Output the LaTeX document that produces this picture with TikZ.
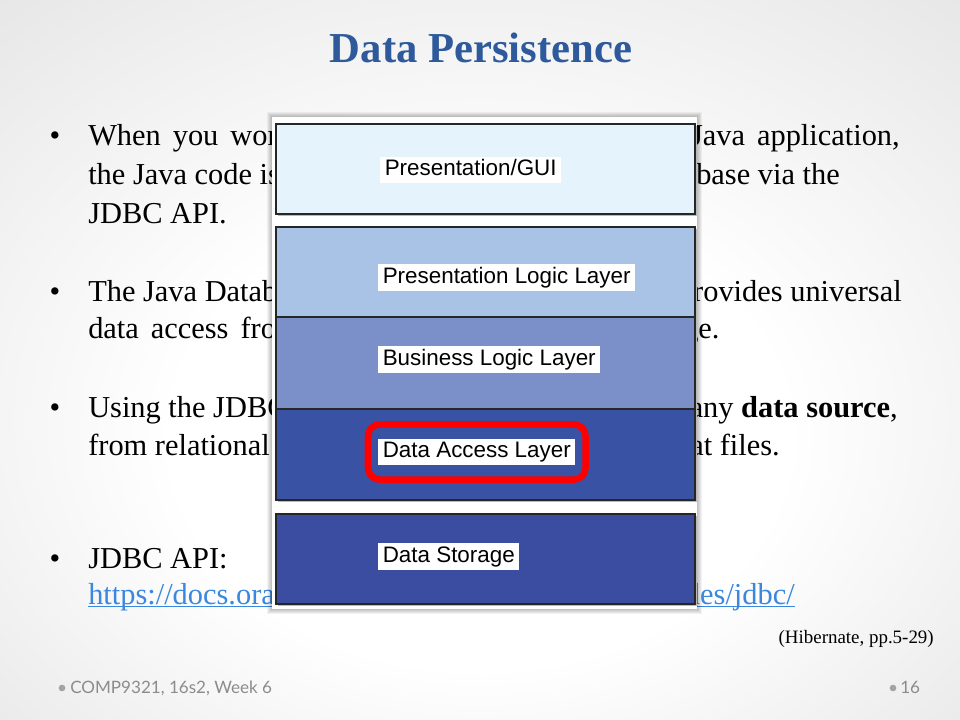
\documentclass[tikz,border=0pt]{standalone}
\usepackage{fontspec}
\setmainfont{Liberation Serif}
\newfontfamily\labelfont{Liberation Sans}
\newfontfamily\footfont{Lato}
\usetikzlibrary{shadows,fit}
\definecolor{titleblue}{HTML}{2E5A9C}
\definecolor{guifill}{HTML}{E5F3FC}
\definecolor{plfill}{HTML}{A8C3E5}
\definecolor{blfill}{HTML}{7B8FC9}
\definecolor{dafill}{HTML}{3A52A3}
\definecolor{dsfill}{HTML}{3A4DA0}
\definecolor{linkblue}{HTML}{3A88DE}
\definecolor{footgray}{HTML}{8C8C8C}
\pgfdeclareradialshading{slidebg}{\pgfpoint{0bp}{-8bp}}{color(0bp)=(white);color(16bp)=(white);color(36bp)=(black!9);color(50bp)=(black!15)}

\begin{document}
\begin{tikzpicture}[x=0.75pt,y=-0.75pt,
    body/.style={inner sep=0pt,font=\fontsize{22.8}{27}\selectfont},
    wide/.style={body,execute at begin node={\spaceskip=#1\relax}},
    layer/.style={draw=black!85,line width=0.9pt,inner sep=0pt,minimum width=314.25pt,
      drop shadow={shadow xshift=1.6pt,shadow yshift=-1.6pt,opacity=0.55}},
    tag/.style={fill=white,anchor=west,inner xsep=3.4pt,inner ysep=2.2pt,
      text height=12.2pt,text depth=3.5pt,font=\labelfont\fontsize{16.8}{20}\selectfont},
    foot/.style={inner sep=0pt,text=footgray,font=\footfont\fontsize{12.8}{15}\selectfont},
    footdot/.style={circle,fill=footgray!80,inner sep=0pt,minimum size=5pt}]
    \useasboundingbox (0,0) rectangle (960,720);
    \shade[shading=slidebg] (0,0) rectangle (960,720);

    \node[anchor=base,text=titleblue,font=\fontsize{32}{36}\selectfont\bfseries] (title) at (481,63) {Data Persistence};

    \foreach \y in {146,301,417,568}
        \node[body,anchor=base] (dot\y) at (55,\y) {\textbullet};
    \node[wide=9pt,anchor=base west] (left146) at (88,146) {When you work};
    \foreach \y/\t in {185/the Java code is,224/JDBC API.,301/The Java Database,
        417/Using the JDBC,455/from relational,568/JDBC API:}
        \node[body,anchor=base west] (left\y) at (88,\y) {\t};
    \node[wide=9pt,anchor=base west] (left339) at (88,339) {data access from};
    \node[body,anchor=base west,text=linkblue] (link) at (88,604) {https://docs.oracle};

    \node[wide=9pt,anchor=base east] (right146) at (900,146) {Java application,};
    \node[body,anchor=base west] (right185) at (696,185) {base via the};
    \node[body,anchor=base east] (right301) at (902,301) {rovides universal};
    \node[body,anchor=base west] (right339) at (683,339) {ge.};
    \node[body,anchor=base east] (right417) at (898,417) {any \textbf{data source},};
    \node[body,anchor=base east] (right455) at (780,455) {at files.};
    \node[body,anchor=base east,text=linkblue] (linkend) at (795,604) {des/jdbc/};
    \draw[linkblue,line width=0.8pt] ([yshift=-2pt]link.base west) -- ([yshift=-2pt]link.base east);
    \draw[linkblue,line width=0.8pt] ([yshift=-2pt]linkend.base west) -- ([yshift=-2pt]linkend.base east);

    \node[anchor=base east,inner sep=0pt,font=\fontsize{14.2}{17}\selectfont] (cite) at (934,643) {(Hibernate, pp.5-29)};

    \foreach \g in {1,...,5}
        \fill[black,opacity=0.05] (272-\g,117-\g) rectangle (697+\g,609+\g);
    \fill[white] (272,117) rectangle (697,609);

    \node[layer,fill=guifill,minimum height=67.5pt] (gui) at (485.5,169) {};
    \node[layer,fill=plfill,minimum height=67.5pt] (plogic) at (485.5,272) {};
    \node[layer,fill=blfill,minimum height=69pt] (blogic) at (485.5,363) {};
    \node[layer,fill=dafill,minimum height=68.25pt] (daccess) at (485.5,454.5) {};
    \node[layer,fill=dsfill,minimum height=67.5pt] (dstore) at (485.5,559) {};

    \node[tag] (guitag) at (380,170) {Presentation/GUI};
    \node[tag] (pltag) at (378,277.5) {Presentation Logic Layer};
    \node[tag] (bltag) at (378,359.5) {Business Logic Layer};
    \node[tag] (datag) at (378,452) {Data Access Layer};
    \node[tag] (dstag) at (378,556.5) {Data Storage};

    \node[draw=red,line width=4.9pt,rounded corners=9pt,inner xsep=7.5pt,inner ysep=10.5pt,fit=(datag)] (focus) {};

    \node[footdot] (fdotl) at (62,688) {};
    \node[foot,anchor=base west] (course) at (70,693) {COMP9321, 16s2, Week 6};
    \node[footdot] (fdotr) at (893,688) {};
    \node[foot,anchor=base west] (page) at (900,693) {16};
\end{tikzpicture}
\end{document}
